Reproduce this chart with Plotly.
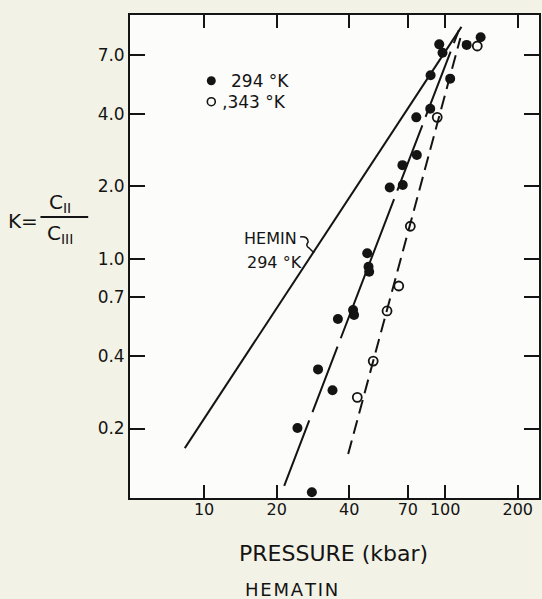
import plotly.graph_objects as go
import numpy as np

# ---------------- data ----------------
# 294 K (filled circles)
p_294 = [94.5, 97.5, 122.8, 140.3, 87.0, 104.9, 86.7, 75.9, 76.3, 66.5, 58.9, 66.7,
         47.5, 48.1, 48.4, 41.5, 41.9, 35.9, 29.7, 34.1, 24.4, 28.0]
k_294 = [7.73, 7.14, 7.69, 8.27, 5.76, 5.58, 4.19, 3.86, 2.70, 2.45, 1.98, 2.03,
         1.06, 0.932, 0.889, 0.617, 0.589, 0.567, 0.351, 0.288, 0.201, 0.109]

# 343 K (open circles)
p_343 = [135.9, 92.7, 71.7, 64.2, 57.4, 50.3, 43.2]
k_343 = [7.61, 3.86, 1.37, 0.776, 0.612, 0.380, 0.269]

# fitted lines (end points)
hemin_p = [8.32, 116.8]
hemin_k = [0.166, 9.13]
fit294_p = [21.5, 114.0]
fit294_k = [0.116, 8.86]
fit343_p = [39.6, 115.6]
fit343_k = [0.157, 8.21]

x_tickvals = [10, 20, 40, 70, 100, 200]
x_ticktext = ["10", "20", "40", "70", "100", "200"]
y_tickvals = [0.2, 0.4, 0.7, 1.0, 2.0, 4.0, 7.0]
y_ticktext = ["0.2", "0.4", "0.7", "1.0", "2.0", "4.0", "7.0"]

legend_labels = ["294 °K", "\u201a343 °K"]

INK = "#141414"
FONT = "DejaVu Sans"
BG = "#f3f2e7"

fig = go.Figure()

fig.add_trace(go.Scatter(x=hemin_p, y=hemin_k, mode="lines", showlegend=False,
                         line=dict(color=INK, width=2)))
fig.add_trace(go.Scatter(x=fit294_p, y=fit294_k, mode="lines", showlegend=False,
                         line=dict(color=INK, width=2, dash="70px,9px")))
fig.add_trace(go.Scatter(x=fit343_p, y=fit343_k, mode="lines", showlegend=False,
                         line=dict(color=INK, width=2, dash="14px,7px")))

fig.add_trace(go.Scatter(x=p_294, y=k_294, mode="markers", name=legend_labels[0],
                         showlegend=False,
                         marker=dict(symbol="circle", size=10, color=INK,
                                     line=dict(width=0))))
fig.add_trace(go.Scatter(x=p_343, y=k_343, mode="markers", name=legend_labels[1],
                         showlegend=False,
                         marker=dict(symbol="circle-open", size=9, color=INK,
                                     line=dict(width=1.8, color=INK))))

W, H = 542, 599
L, R, T, B = 130, 1, 15, 101
pw, ph = W - L - R, H - T - B


def px(xp):
    return (xp - L) / pw


def py(yp):
    return (H - B - yp) / ph


fig.update_layout(
    width=W, height=H,
    margin=dict(l=L, r=R, t=T, b=B, pad=0),
    paper_bgcolor=BG,
    plot_bgcolor="#fcfcfa",
    font=dict(family=FONT, color=INK, size=16),
    showlegend=False,
    xaxis=dict(type="log", range=[np.log10(4.93), np.log10(245)],
               tickvals=x_tickvals, ticktext=x_ticktext,
               ticks="inside", ticklen=13, tickwidth=1.5, tickcolor=INK,
               showline=True, linecolor=INK, linewidth=1.8, mirror="ticks",
               showgrid=False, zeroline=False,
               tickfont=dict(size=16, family=FONT), ticklabelstandoff=-4),
    yaxis=dict(type="log", range=[-0.986, 1.0095],
               tickvals=y_tickvals, ticktext=y_ticktext,
               ticks="inside", ticklen=15, tickwidth=1.5, tickcolor=INK,
               showline=True, linecolor=INK, linewidth=1.8, mirror="ticks",
               showgrid=False, zeroline=False,
               tickfont=dict(size=17, family=FONT), ticklabelstandoff=0),
)

HS = "\u200a"
ann = [
    dict(text="PRESSURE (kbar)", x=px(334.5), y=py(553), size=22, xa="center"),
    dict(text=HS.join("HEMATIN"), x=px(292.5), y=py(589), size=18, xa="center"),
    dict(text="K=", x=px(22), y=py(221), size=20, xa="center"),
    dict(text="C<sub>II</sub>", x=px(60), y=py(203), size=20, xa="center"),
    dict(text="C<sub>III</sub>", x=px(60), y=py(234), size=20, xa="center"),
    dict(text="HEMIN", x=px(271.5), y=py(238), size=16, xa="center"),
    dict(text="294 °K", x=px(275), y=py(262), size=16, xa="center"),
    dict(text=legend_labels[0], x=px(229), y=py(81), size=17, xa="left"),
    dict(text=legend_labels[1], x=px(220), y=py(102), size=17, xa="left"),
]
for a in ann:
    fig.add_annotation(text=a["text"], x=a["x"], y=a["y"], xref="paper", yref="paper",
                       showarrow=False, xanchor=a["xa"], yanchor="middle",
                       font=dict(size=a["size"], family=FONT, color=INK))

# legend symbols
r1, r2 = 4.5, 4.0
fig.add_shape(type="circle", xref="paper", yref="paper",
              x0=px(211.7 - r1), x1=px(211.7 + r1), y0=py(80.7 + r1), y1=py(80.7 - r1),
              fillcolor=INK, line=dict(color=INK, width=0))
fig.add_shape(type="circle", xref="paper", yref="paper",
              x0=px(211.7 - r2), x1=px(211.7 + r2), y0=py(101.7 + r2), y1=py(101.7 - r2),
              fillcolor="rgba(0,0,0,0)", line=dict(color=INK, width=1.6))

# fraction bar
fig.add_shape(type="line", xref="paper", yref="paper",
              x0=px(40), x1=px(88), y0=py(217), y1=py(217),
              line=dict(color=INK, width=1.8))

# squiggle connecting HEMIN label to line
pts = [(301, 237), (309, 236), (309, 242), (306, 246), (310, 248), (315, 253)]
P = [(px(a), py(b)) for a, b in pts]
path = (f"M {P[0][0]},{P[0][1]} Q {P[1][0]},{P[1][1]} {P[2][0]},{P[2][1]} "
        f"Q {P[3][0]},{P[3][1]} {P[4][0]},{P[4][1]} L {P[5][0]},{P[5][1]}")
fig.add_shape(type="path", xref="paper", yref="paper", path=path,
              line=dict(color=INK, width=1.5))

fig.write_html("out.html",
               config={"displayModeBar": False},
               post_script="document.body.style.margin='0';"
                           "document.body.style.background='" + BG + "';"
                           "document.body.style.overflow='hidden';")
